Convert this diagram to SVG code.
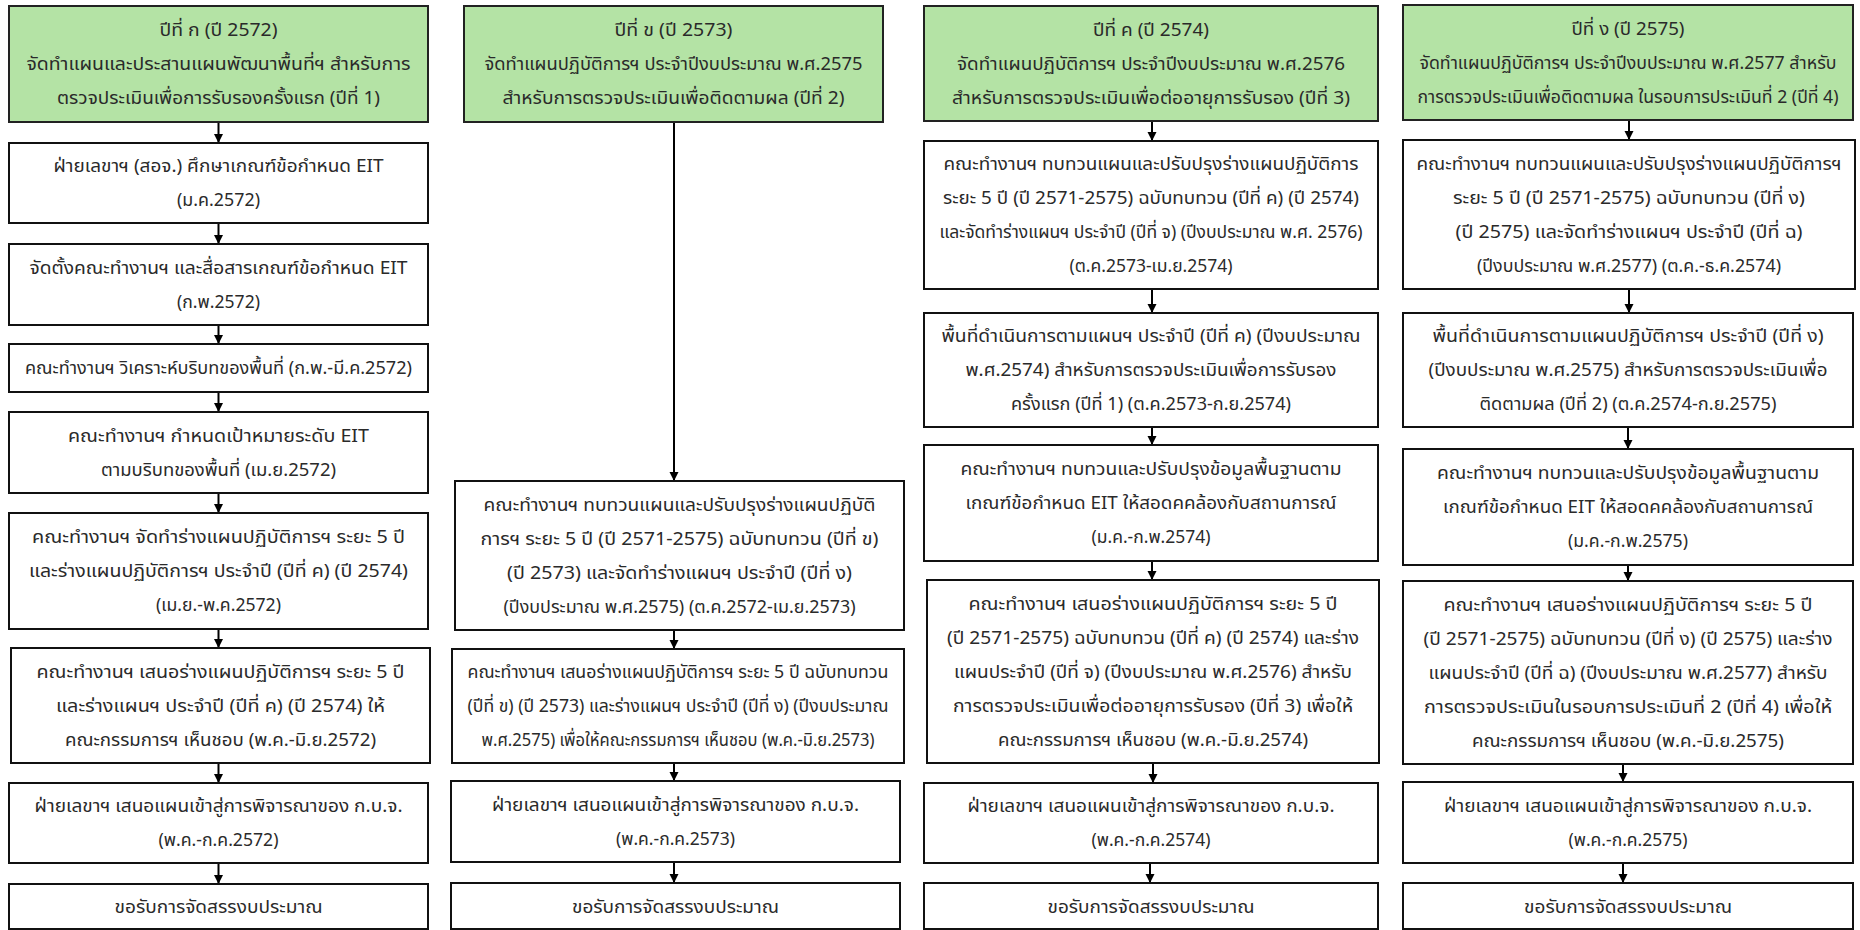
<svg xmlns="http://www.w3.org/2000/svg" width="1860" height="930" viewBox="0 0 1860 930">
<style>
.hd{fill:#B4E3A5;stroke:#222;stroke-width:2}
.bx{fill:#fff;stroke:#111;stroke-width:2}
text{font-family:"Noto Sans Thai","Noto Sans Thai UI","Noto Sans",sans-serif;font-size:18px;fill:#2a2a2a;text-anchor:middle}
.cn{stroke:#000;stroke-width:2;fill:none;marker-end:url(#arr)}
</style>
<defs>
<marker id="arr" markerUnits="userSpaceOnUse" markerWidth="10" markerHeight="10" refX="9" refY="5" orient="auto">
<path d="M0,0.5 L9,5 L0,9.5 z" fill="#000"/>
</marker>
</defs>
<rect width="1860" height="930" fill="#fff"/>
<g id="connectors">
<line class="cn" x1="218.5" y1="122" x2="218.5" y2="143"/>
<line class="cn" x1="218.5" y1="223" x2="218.5" y2="244"/>
<line class="cn" x1="218.5" y1="325" x2="218.5" y2="344"/>
<line class="cn" x1="218.5" y1="392" x2="218.5" y2="412"/>
<line class="cn" x1="218.5" y1="493" x2="218.5" y2="513"/>
<line class="cn" x1="218.5" y1="629" x2="218.5" y2="648"/>
<line class="cn" x1="218.5" y1="763" x2="218.5" y2="783"/>
<line class="cn" x1="218.5" y1="863" x2="218.5" y2="884"/>
<line class="cn" x1="674" y1="122" x2="674" y2="481"/>
<line class="cn" x1="674" y1="630" x2="674" y2="649"/>
<line class="cn" x1="674" y1="763" x2="674" y2="781"/>
<line class="cn" x1="674" y1="862" x2="674" y2="883"/>
<line class="cn" x1="1152" y1="121" x2="1152" y2="141"/>
<line class="cn" x1="1152" y1="289" x2="1152" y2="313"/>
<line class="cn" x1="1152" y1="427" x2="1152" y2="445"/>
<line class="cn" x1="1152" y1="561" x2="1152" y2="580"/>
<line class="cn" x1="1153" y1="763" x2="1153" y2="783"/>
<line class="cn" x1="1150" y1="863" x2="1150" y2="883"/>
<line class="cn" x1="1629" y1="120" x2="1629" y2="140"/>
<line class="cn" x1="1629" y1="289" x2="1629" y2="313"/>
<line class="cn" x1="1628" y1="427" x2="1628" y2="449"/>
<line class="cn" x1="1628" y1="565" x2="1628" y2="581"/>
<line class="cn" x1="1623" y1="764" x2="1623" y2="782"/>
<line class="cn" x1="1623" y1="863" x2="1623" y2="883"/>
</g>
<g id="h1"><rect class="hd" x="9" y="6" width="419" height="116"/>
<text x="218.5" y="36" textLength="118" lengthAdjust="spacingAndGlyphs">ปีที่ ก (ปี 2572)</text>
<text x="218.5" y="70" textLength="384" lengthAdjust="spacingAndGlyphs">จัดทำแผนและประสานแผนพัฒนาพื้นที่ฯ สำหรับการ</text>
<text x="218.5" y="104" textLength="323" lengthAdjust="spacingAndGlyphs">ตรวจประเมินเพื่อการรับรองครั้งแรก (ปีที่ 1)</text></g>
<g id="b1"><rect class="bx" x="9" y="143" width="419" height="80"/>
<text x="218.5" y="172" textLength="330" lengthAdjust="spacingAndGlyphs">ฝ่ายเลขาฯ (สอจ.) ศึกษาเกณฑ์ข้อกำหนด EIT</text>
<text x="218.5" y="206" textLength="83" lengthAdjust="spacingAndGlyphs">(ม.ค.2572)</text></g>
<g id="b2"><rect class="bx" x="9" y="244" width="419" height="81"/>
<text x="218.5" y="273.5" textLength="378" lengthAdjust="spacingAndGlyphs">จัดตั้งคณะทำงานฯ และสื่อสารเกณฑ์ข้อกำหนด EIT</text>
<text x="218.5" y="307.5" textLength="83" lengthAdjust="spacingAndGlyphs">(ก.พ.2572)</text></g>
<g id="b3"><rect class="bx" x="9" y="344" width="419" height="48"/>
<text x="218.5" y="374" textLength="387" lengthAdjust="spacingAndGlyphs">คณะทำงานฯ วิเคราะห์บริบทของพื้นที่ (ก.พ.-มี.ค.2572)</text></g>
<g id="b4"><rect class="bx" x="9" y="412" width="419" height="81"/>
<text x="218.5" y="441.5" textLength="301" lengthAdjust="spacingAndGlyphs">คณะทำงานฯ กำหนดเป้าหมายระดับ EIT</text>
<text x="218.5" y="475.5" textLength="235" lengthAdjust="spacingAndGlyphs">ตามบริบทของพื้นที่ (เม.ย.2572)</text></g>
<g id="b5"><rect class="bx" x="9" y="513" width="419" height="116"/>
<text x="218.5" y="543" textLength="373" lengthAdjust="spacingAndGlyphs">คณะทำงานฯ จัดทำร่างแผนปฏิบัติการฯ ระยะ 5 ปี</text>
<text x="218.5" y="577" textLength="379" lengthAdjust="spacingAndGlyphs">และร่างแผนปฏิบัติการฯ ประจำปี (ปีที่ ค) (ปี 2574)</text>
<text x="218.5" y="611" textLength="125" lengthAdjust="spacingAndGlyphs">(เม.ย.-พ.ค.2572)</text></g>
<g id="b6"><rect class="bx" x="11" y="648" width="419" height="115"/>
<text x="220.5" y="677.5" textLength="368" lengthAdjust="spacingAndGlyphs">คณะทำงานฯ เสนอร่างแผนปฏิบัติการฯ ระยะ 5 ปี</text>
<text x="220.5" y="711.5" textLength="329" lengthAdjust="spacingAndGlyphs">และร่างแผนฯ ประจำปี (ปีที่ ค) (ปี 2574) ให้</text>
<text x="220.5" y="745.5" textLength="311" lengthAdjust="spacingAndGlyphs">คณะกรรมการฯ เห็นชอบ (พ.ค.-มิ.ย.2572)</text></g>
<g id="b7"><rect class="bx" x="9" y="783" width="419" height="80"/>
<text x="218.5" y="812" textLength="368" lengthAdjust="spacingAndGlyphs">ฝ่ายเลขาฯ เสนอแผนเข้าสู่การพิจารณาของ ก.บ.จ.</text>
<text x="218.5" y="846" textLength="120" lengthAdjust="spacingAndGlyphs">(พ.ค.-ก.ค.2572)</text></g>
<g id="b8"><rect class="bx" x="9" y="884" width="419" height="45"/>
<text x="218.5" y="913" textLength="208" lengthAdjust="spacingAndGlyphs">ขอรับการจัดสรรงบประมาณ</text></g>
<g id="h2"><rect class="hd" x="464" y="6" width="419" height="116"/>
<text x="673.5" y="36" textLength="118" lengthAdjust="spacingAndGlyphs">ปีที่ ข (ปี 2573)</text>
<text x="673.5" y="70" textLength="378" lengthAdjust="spacingAndGlyphs">จัดทำแผนปฏิบัติการฯ ประจำปีงบประมาณ  พ.ศ.2575</text>
<text x="673.5" y="104" textLength="342" lengthAdjust="spacingAndGlyphs">สำหรับการตรวจประเมินเพื่อติดตามผล (ปีที่ 2)</text></g>
<g id="c1"><rect class="bx" x="455" y="481" width="449" height="149"/>
<text x="679.5" y="510.5" textLength="392" lengthAdjust="spacingAndGlyphs">คณะทำงานฯ ทบทวนแผนและปรับปรุงร่างแผนปฏิบัติ</text>
<text x="679.5" y="544.5" textLength="398" lengthAdjust="spacingAndGlyphs">การฯ ระยะ 5 ปี (ปี 2571-2575) ฉบับทบทวน (ปีที่ ข)</text>
<text x="679.5" y="578.5" textLength="345" lengthAdjust="spacingAndGlyphs">(ปี 2573) และจัดทำร่างแผนฯ ประจำปี (ปีที่ ง)</text>
<text x="679.5" y="612.5" textLength="352" lengthAdjust="spacingAndGlyphs">(ปีงบประมาณ  พ.ศ.2575) (ต.ค.2572-เม.ย.2573)</text></g>
<g id="c2"><rect class="bx" x="452" y="649" width="452" height="114"/>
<text x="678" y="678" textLength="421" lengthAdjust="spacingAndGlyphs">คณะทำงานฯ เสนอร่างแผนปฏิบัติการฯ ระยะ 5 ปี ฉบับทบทวน</text>
<text x="678" y="712" textLength="421" lengthAdjust="spacingAndGlyphs">(ปีที่ ข) (ปี 2573) และร่างแผนฯ ประจำปี (ปีที่ ง) (ปีงบประมาณ</text>
<text x="678" y="746" textLength="393" lengthAdjust="spacingAndGlyphs">พ.ศ.2575) เพื่อให้คณะกรรมการฯ เห็นชอบ (พ.ค.-มิ.ย.2573)</text></g>
<g id="c3"><rect class="bx" x="451" y="781" width="449" height="81"/>
<text x="675.5" y="810.5" textLength="367" lengthAdjust="spacingAndGlyphs">ฝ่ายเลขาฯ เสนอแผนเข้าสู่การพิจารณาของ ก.บ.จ.</text>
<text x="675.5" y="844.5" textLength="119" lengthAdjust="spacingAndGlyphs">(พ.ค.-ก.ค.2573)</text></g>
<g id="c4"><rect class="bx" x="451" y="883" width="449" height="46"/>
<text x="675.5" y="912.5" textLength="207" lengthAdjust="spacingAndGlyphs">ขอรับการจัดสรรงบประมาณ</text></g>
<g id="h3"><rect class="hd" x="924" y="6" width="454" height="115"/>
<text x="1151" y="35.5" textLength="116" lengthAdjust="spacingAndGlyphs">ปีที่ ค (ปี 2574)</text>
<text x="1151" y="69.5" textLength="388" lengthAdjust="spacingAndGlyphs">จัดทำแผนปฏิบัติการฯ ประจำปีงบประมาณ  พ.ศ.2576</text>
<text x="1151" y="103.5" textLength="398" lengthAdjust="spacingAndGlyphs">สำหรับการตรวจประเมินเพื่อต่ออายุการรับรอง (ปีที่ 3)</text></g>
<g id="d1"><rect class="bx" x="924" y="141" width="454" height="148"/>
<text x="1151" y="170" textLength="415" lengthAdjust="spacingAndGlyphs">คณะทำงานฯ ทบทวนแผนและปรับปรุงร่างแผนปฏิบัติการ</text>
<text x="1151" y="204" textLength="416" lengthAdjust="spacingAndGlyphs">ระยะ 5 ปี (ปี 2571-2575) ฉบับทบทวน (ปีที่ ค) (ปี 2574)</text>
<text x="1151" y="238" textLength="423" lengthAdjust="spacingAndGlyphs">และจัดทำร่างแผนฯ ประจำปี (ปีที่ จ) (ปีงบประมาณ พ.ศ. 2576)</text>
<text x="1151" y="272" textLength="163" lengthAdjust="spacingAndGlyphs">(ต.ค.2573-เม.ย.2574)</text></g>
<g id="d2"><rect class="bx" x="924" y="313" width="454" height="114"/>
<text x="1151" y="342" textLength="419" lengthAdjust="spacingAndGlyphs">พื้นที่ดำเนินการตามแผนฯ ประจำปี (ปีที่ ค) (ปีงบประมาณ</text>
<text x="1151" y="376" textLength="371" lengthAdjust="spacingAndGlyphs">พ.ศ.2574) สำหรับการตรวจประเมินเพื่อการรับรอง</text>
<text x="1151" y="410" textLength="280" lengthAdjust="spacingAndGlyphs">ครั้งแรก (ปีที่ 1) (ต.ค.2573-ก.ย.2574)</text></g>
<g id="d3"><rect class="bx" x="924" y="445" width="454" height="116"/>
<text x="1151" y="475" textLength="381" lengthAdjust="spacingAndGlyphs">คณะทำงานฯ ทบทวนและปรับปรุงข้อมูลพื้นฐานตาม</text>
<text x="1151" y="509" textLength="371" lengthAdjust="spacingAndGlyphs">เกณฑ์ข้อกำหนด EIT ให้สอดคคล้องกับสถานการณ์</text>
<text x="1151" y="543" textLength="119" lengthAdjust="spacingAndGlyphs">(ม.ค.-ก.พ.2574)</text></g>
<g id="d4"><rect class="bx" x="927" y="580" width="452" height="183"/>
<text x="1153" y="609.5" textLength="369" lengthAdjust="spacingAndGlyphs">คณะทำงานฯ เสนอร่างแผนปฏิบัติการฯ ระยะ 5 ปี</text>
<text x="1153" y="643.5" textLength="412" lengthAdjust="spacingAndGlyphs">(ปี 2571-2575) ฉบับทบทวน (ปีที่ ค) (ปี 2574) และร่าง</text>
<text x="1153" y="677.5" textLength="398" lengthAdjust="spacingAndGlyphs">แผนประจำปี (ปีที่ จ) (ปีงบประมาณ  พ.ศ.2576) สำหรับ</text>
<text x="1153" y="711.5" textLength="400" lengthAdjust="spacingAndGlyphs">การตรวจประเมินเพื่อต่ออายุการรับรอง (ปีที่ 3) เพื่อให้</text>
<text x="1153" y="745.5" textLength="310" lengthAdjust="spacingAndGlyphs">คณะกรรมการฯ เห็นชอบ (พ.ค.-มิ.ย.2574)</text></g>
<g id="d5"><rect class="bx" x="924" y="783" width="454" height="80"/>
<text x="1151" y="812" textLength="367" lengthAdjust="spacingAndGlyphs">ฝ่ายเลขาฯ เสนอแผนเข้าสู่การพิจารณาของ ก.บ.จ.</text>
<text x="1151" y="846" textLength="119" lengthAdjust="spacingAndGlyphs">(พ.ค.-ก.ค.2574)</text></g>
<g id="d6"><rect class="bx" x="924" y="883" width="454" height="46"/>
<text x="1151" y="912.5" textLength="207" lengthAdjust="spacingAndGlyphs">ขอรับการจัดสรรงบประมาณ</text></g>
<g id="h4"><rect class="hd" x="1403" y="5" width="450" height="115"/>
<text x="1628" y="34.5" textLength="113" lengthAdjust="spacingAndGlyphs">ปีที่ ง (ปี 2575)</text>
<text x="1628" y="68.5" textLength="417" lengthAdjust="spacingAndGlyphs">จัดทำแผนปฏิบัติการฯ ประจำปีงบประมาณ พ.ศ.2577 สำหรับ</text>
<text x="1628" y="102.5" textLength="421" lengthAdjust="spacingAndGlyphs">การตรวจประเมินเพื่อติดตามผล ในรอบการประเมินที่ 2 (ปีที่ 4)</text></g>
<g id="e1"><rect class="bx" x="1403" y="140" width="452" height="149"/>
<text x="1629" y="169.5" textLength="425" lengthAdjust="spacingAndGlyphs">คณะทำงานฯ ทบทวนแผนและปรับปรุงร่างแผนปฏิบัติการฯ</text>
<text x="1629" y="203.5" textLength="352" lengthAdjust="spacingAndGlyphs">ระยะ 5 ปี (ปี 2571-2575) ฉบับทบทวน (ปีที่ ง)</text>
<text x="1629" y="237.5" textLength="347" lengthAdjust="spacingAndGlyphs">(ปี 2575) และจัดทำร่างแผนฯ ประจำปี (ปีที่ ฉ)</text>
<text x="1629" y="271.5" textLength="304" lengthAdjust="spacingAndGlyphs">(ปีงบประมาณ  พ.ศ.2577) (ต.ค.-ธ.ค.2574)</text></g>
<g id="e2"><rect class="bx" x="1403" y="313" width="450" height="114"/>
<text x="1628" y="342" textLength="391" lengthAdjust="spacingAndGlyphs">พื้นที่ดำเนินการตามแผนปฏิบัติการฯ ประจำปี (ปีที่ ง)</text>
<text x="1628" y="376" textLength="399" lengthAdjust="spacingAndGlyphs">(ปีงบประมาณ  พ.ศ.2575) สำหรับการตรวจประเมินเพื่อ</text>
<text x="1628" y="410" textLength="297" lengthAdjust="spacingAndGlyphs">ติดตามผล (ปีที่ 2) (ต.ค.2574-ก.ย.2575)</text></g>
<g id="e3"><rect class="bx" x="1403" y="449" width="450" height="116"/>
<text x="1628" y="479" textLength="382" lengthAdjust="spacingAndGlyphs">คณะทำงานฯ ทบทวนและปรับปรุงข้อมูลพื้นฐานตาม</text>
<text x="1628" y="513" textLength="370" lengthAdjust="spacingAndGlyphs">เกณฑ์ข้อกำหนด EIT ให้สอดคคล้องกับสถานการณ์</text>
<text x="1628" y="547" textLength="120" lengthAdjust="spacingAndGlyphs">(ม.ค.-ก.พ.2575)</text></g>
<g id="e4"><rect class="bx" x="1403" y="581" width="450" height="183"/>
<text x="1628" y="610.5" textLength="369" lengthAdjust="spacingAndGlyphs">คณะทำงานฯ เสนอร่างแผนปฏิบัติการฯ ระยะ 5 ปี</text>
<text x="1628" y="644.5" textLength="409" lengthAdjust="spacingAndGlyphs">(ปี 2571-2575) ฉบับทบทวน (ปีที่ ง) (ปี 2575) และร่าง</text>
<text x="1628" y="678.5" textLength="399" lengthAdjust="spacingAndGlyphs">แผนประจำปี (ปีที่ ฉ) (ปีงบประมาณ  พ.ศ.2577) สำหรับ</text>
<text x="1628" y="712.5" textLength="408" lengthAdjust="spacingAndGlyphs">การตรวจประเมินในรอบการประเมินที่ 2 (ปีที่ 4) เพื่อให้</text>
<text x="1628" y="746.5" textLength="312" lengthAdjust="spacingAndGlyphs">คณะกรรมการฯ เห็นชอบ (พ.ค.-มิ.ย.2575)</text></g>
<g id="e5"><rect class="bx" x="1403" y="782" width="450" height="81"/>
<text x="1628" y="811.5" textLength="368" lengthAdjust="spacingAndGlyphs">ฝ่ายเลขาฯ เสนอแผนเข้าสู่การพิจารณาของ ก.บ.จ.</text>
<text x="1628" y="845.5" textLength="119" lengthAdjust="spacingAndGlyphs">(พ.ค.-ก.ค.2575)</text></g>
<g id="e6"><rect class="bx" x="1403" y="883" width="450" height="46"/>
<text x="1628" y="912.5" textLength="208" lengthAdjust="spacingAndGlyphs">ขอรับการจัดสรรงบประมาณ</text></g>
</svg>
